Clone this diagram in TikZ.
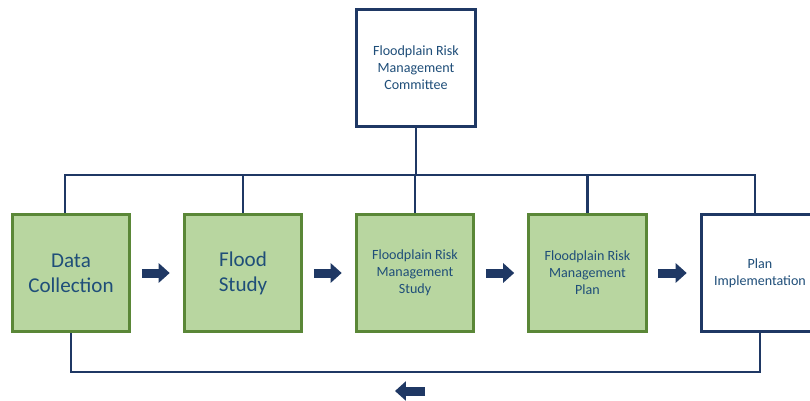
\documentclass[tikz,border=0pt]{standalone}
\usepackage{fontspec}
\setmainfont{Carlito}
\usetikzlibrary{arrows.meta}
\definecolor{navy}{RGB}{31,56,100}
\definecolor{textblue}{RGB}{31,78,121}
\definecolor{leaf}{RGB}{184,214,160}
\definecolor{leafline}{RGB}{90,135,55}
\tikzset{box/.style={draw,line width=2.1pt,minimum width=2.93cm,minimum height=2.93cm,align=center,text=textblue}}
\tikzset{stage/.style={box,draw=leafline,fill=leaf}}
\tikzset{plain/.style={box,draw=navy,fill=white}}
\tikzset{big/.style={font=\fontsize{15}{17.7}\selectfont}}
\tikzset{small/.style={font=\fontsize{10}{12}\selectfont}}
\tikzset{link/.style={draw=navy,line width=2pt}}
\tikzset{fat/.style={draw=navy,line width=6.4pt,-{Triangle[length=7.8pt,width=13.5pt]},shorten <=0.27cm,shorten >=0.33cm}}

\begin{document}
\begin{tikzpicture}[x=0.025cm,y=-0.025cm]
    \useasboundingbox (0,0) rectangle (810,401);
    \node [stage,big] at (71,273) (dc) {Data\\Collection};
    \node [stage,big] at (243,273) (fs) {Flood\\Study};
    \node [stage,small] at (415,273) (fms) {Floodplain Risk\\Management\\Study};
    \node [stage,small] at (587.5,273) (fmp) {Floodplain Risk\\Management\\Plan};
    \node [plain,small] at (760,273) (pi) {Plan\\Implementation};
    \node [plain,small,minimum width=2.98cm] at (416,68) (com) {Floodplain Risk\\Management\\Committee};
    % bus above the stages
    \coordinate (topl) at (65,175);
    \coordinate (topr) at (755,175);
    \draw [link] (dc.north -| topl) |- (topr) -- (pi.north -| topr);
    \foreach \n in {fs,fms,fmp}
        \draw [link] (\n.north) -- (\n.north |- topl);
    \draw [link] (com.south) -- (com.south |- topl);
    % feedback loop below
    \coordinate (botl) at (71,372);
    \draw [link] (dc.south) |- (pi.south |- botl) -- (pi.south);
    \coordinate (back) at (425,391);
    \coordinate (backend) at (395,391);
    \draw [fat,shorten <=0pt,shorten >=0pt] (back) -- (backend);
    % arrows between stages
    \draw [fat] (dc) -- (fs);
    \draw [fat] (fs) -- (fms);
    \draw [fat] (fms) -- (fmp);
    \draw [fat] (fmp) -- (pi);
\end{tikzpicture}
\end{document}
